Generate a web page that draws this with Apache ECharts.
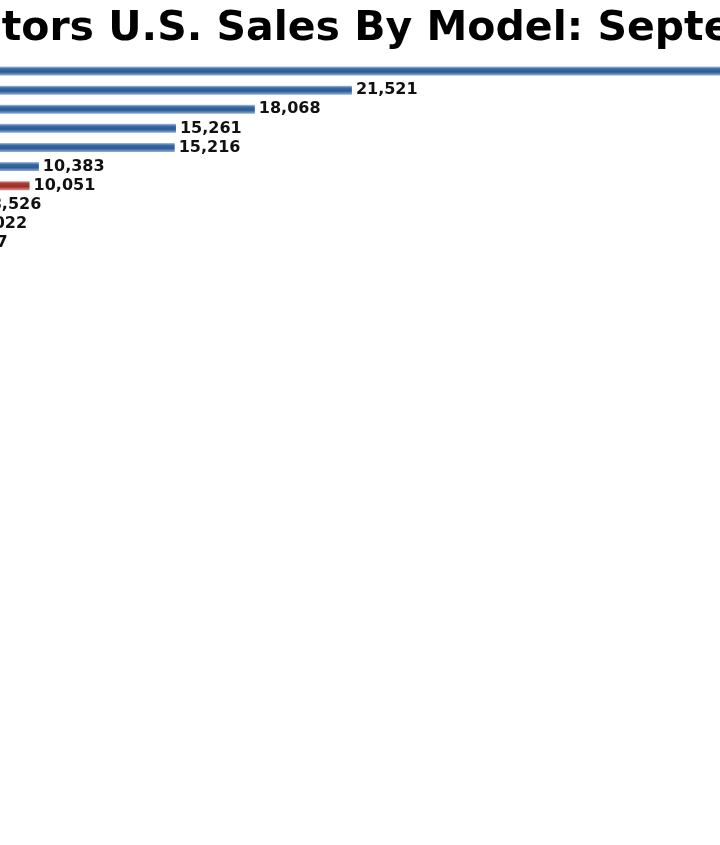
<!DOCTYPE html>
<html>
<head>
<meta charset="utf-8">
<script src="https://cdn.jsdelivr.net/npm/echarts@6/dist/echarts.min.js"></script>
<style>html,body{margin:0;padding:0;background:#fff;}#c{width:720px;height:845px;}</style>
</head>
<body>
<div id="c"></div>
<script>
// Rows (top to bottom); model names lie outside the visible crop
const categories = ['Row 1','Row 2','Row 3','Row 4','Row 5','Row 6','Row 7','Row 8','Row 9','Row 10'];
const sales = [38000, 21521, 18068, 15261, 15216, 10383, 10051, 8526, 8022, 7327];
const highlightIndex = [6];
const titleText = 'General Motors U.S. Sales By Model: September 2013';
// visible part of the value axis (the picture is a crop of a wider chart)
const axisMin = 9000;
const axisMax = 34620;

const blueGrad = new echarts.graphic.LinearGradient(0,0,0,1,[
  {offset:0,color:'#a9c3e0'},{offset:0.25,color:'#3a6aa5'},{offset:0.6,color:'#2b5a94'},{offset:1,color:'#8fb0d6'}]);
const redGrad = new echarts.graphic.LinearGradient(0,0,0,1,[
  {offset:0,color:'#d9a09a'},{offset:0.25,color:'#b03a33'},{offset:0.6,color:'#9e2c26'},{offset:1,color:'#d29690'}]);

const chart = echarts.init(document.getElementById('c'));
chart.setOption({
  animation:false,
  backgroundColor:'#fff',
  title:{text:titleText,left:-267,top:4,textStyle:{fontFamily:'DejaVu Sans',fontWeight:'bold',fontSize:41,color:'#000'}},
  grid:{left:0,top:61.5,width:720,height:191},
  xAxis:{type:'value',min:axisMin,max:axisMax,show:false},
  yAxis:{type:'category',data:categories,inverse:true,show:false},
  series:[{
    type:'bar',barWidth:9,clip:false,
    data:sales.map((v,i)=>({value:v,itemStyle:{color:highlightIndex.includes(i)?redGrad:blueGrad}})),
    label:{show:true,position:'right',distance:4,fontFamily:'DejaVu Sans',fontWeight:'bold',fontSize:16,color:'#111',
      formatter:p=>p.value.toLocaleString('en-US')}
  }]
});
</script>
</body>
</html>
